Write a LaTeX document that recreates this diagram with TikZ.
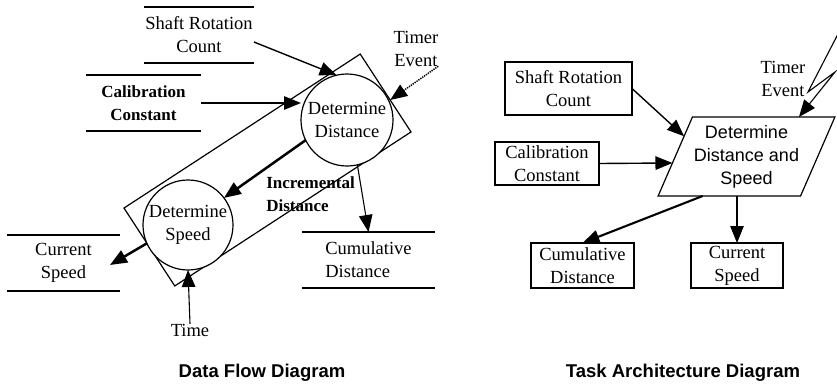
\documentclass[tikz,border=0pt]{standalone}
\usepackage{fontspec}
\setmainfont{Liberation Serif}
\newfontfamily\arialfont{Liberation Sans}
\usetikzlibrary{arrows.meta,shapes.geometric,calc}

\begin{document}
\begin{tikzpicture}[x=1pt,y=-1pt,
  every node/.style={inner sep=0pt, outer sep=0pt},
  lbl/.style={font=\fontsize{18.5}{23}\selectfont, align=center},
  boldlbl/.style={font=\fontsize{17}{23}\selectfont\bfseries, align=center},
  store/.style={lbl, minimum height=56pt},
  storeline/.style={line width=1.4pt},
  proc/.style={circle, draw, fill=white, line width=1.2pt, minimum size=92pt, lbl},
  box/.style={draw, line width=1.2pt, lbl},
  arr/.style={-{Triangle[length=17pt,width=13.5pt]}, line width=1.4pt},
  heavyarr/.style={arr, line width=2.5pt},
  thinarr/.style={arr, line width=1.1pt},
  title/.style={font=\arialfont\fontsize{18.5}{23}\selectfont\bfseries}
]
\useasboundingbox (0,0) rectangle (837,386);

% ---------------- Data flow diagram ----------------
% task boundary enclosing both transformations
\node[draw, line width=1.2pt, minimum width=282pt, minimum height=93pt, rotate=33.1]
  (taskL) at (267.5,170) {};

\node[proc] (dd) at (347,120) {Determine\\Distance};
\node[proc, minimum size=90pt] (ds) at (188,225) {Determine\\Speed};

% data stores
\node[store, minimum width=110pt] (shaftL) at (199,35) {Shaft Rotation\\Count};
\draw[storeline] (shaftL.north west) -- (shaftL.north east) (shaftL.south west) -- (shaftL.south east);

\node[store, boldlbl, minimum width=115pt, minimum height=56pt] (calL) at (143.5,103) {Calibration\\Constant};
\draw[storeline] (calL.north west) -- (calL.north east) (calL.south west) -- (calL.south east);

\node[store, align=left, minimum width=133pt] (cumL) at (368.5,260) {Cumulative\\Distance};
\draw[storeline] (cumL.north west) -- (cumL.north east) (cumL.south west) -- (cumL.south east);

\node[store, minimum width=113pt] (csL) at (63.5,263) {Current\\Speed};
\draw[storeline] (csL.north west) -- (csL.north east) (csL.south west) -- (csL.south east);

% external inputs and flow labels
\node[lbl] (timerL) at (416,48.5) {Timer\\Event};
\node[lbl] (timeL) at (190,330) {Time};
\node[boldlbl, align=left] (incL) at (310.5,194.5) {Incremental\\Distance};

% flows
\draw[arr] ([yshift=-7pt]shaftL.east) -- (dd.103);
\draw[arr] (calL.east) -- (calL.east -| dd.west);
\draw[arr, line width=1.5pt, dash pattern=on 1.3pt off 1pt]
  (timerL.south east) -- ($(taskL.north east)!0.59!(taskL.south east)$);
\draw[heavyarr] (dd.206) -- (ds.37);
\draw[thinarr] (dd.283) -- (cumL.north);
\draw[heavyarr] (ds.204) -- ($(csL.east)+(-10,2)$);
\draw[thinarr] (timeL.north) -- (ds.south);

\node[title] (dfdTitle) at (262,373) {Data Flow Diagram};

% ---------------- Task architecture diagram ----------------
\node[trapezium, trapezium left angle=62, trapezium right angle=118,
  trapezium stretches=true, draw, line width=1.2pt,
  minimum width=177pt, minimum height=79pt,
  font=\arialfont\fontsize{18}{23}\selectfont, align=center]
  (taskR) at (746.5,156.5) {Determine\\Distance and\\Speed};

\node[box, minimum width=127pt, minimum height=53pt] (shaftR) at (568.5,88.5) {Shaft Rotation\\Count};
\node[box, minimum width=104pt, minimum height=43pt] (calR) at (547,163.5) {Calibration\\Constant};
\node[box, minimum width=103pt, minimum height=45pt] (cumR) at (582.5,265.5) {Cumulative\\Distance};
\node[box, minimum width=92pt, minimum height=45pt] (csR) at (737,265.5) {Current\\Speed};
\node[lbl] (timerR) at (783,78.5) {Timer\\Event};

% timer event (asynchronous) bolt
\coordinate (boltTop) at (839,32);
\coordinate (boltA) at (808,92);
\coordinate (boltB) at (835,72);
\draw[thinarr] (boltTop) -- (boltA) -- (boltB) -- (taskR.37);

\draw[arr] (shaftR.east) -- (taskR.162);
\draw[arr] (calR.east) -- (taskR.185);
\draw[heavyarr, line width=2.1pt] (taskR.222) -- (cumR.north);
\draw[thinarr] (csR.north |- taskR.south) -- (csR.north);

\node[title] (tadTitle) at (683,373) {Task Architecture Diagram};
\end{tikzpicture}
\end{document}
